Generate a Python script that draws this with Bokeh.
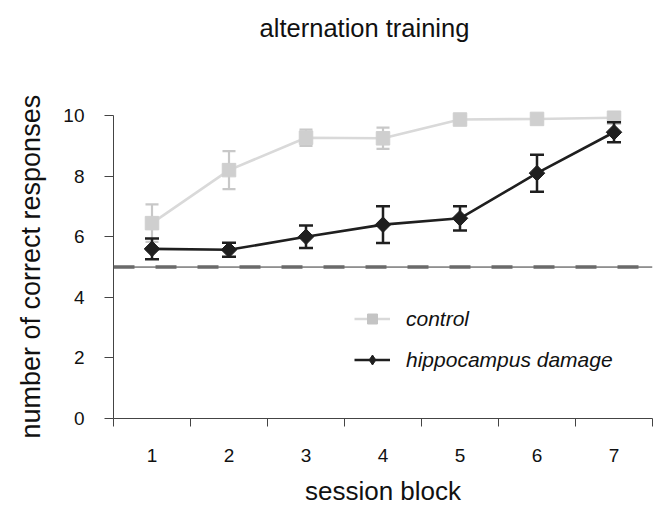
from bokeh.plotting import figure
from bokeh.models import (ColumnDataSource, Range1d, FixedTicker, Span, Legend, LegendItem,
                          Label, Title)
from bokeh.embed import file_html
from bokeh.resources import INLINE
import numpy as np

# ---- data ----
blocks = [1, 2, 3, 4, 5, 6, 7]
control_mean = [6.45, 8.2, 9.27, 9.25, 9.87, 9.89, 9.93]
control_err = [0.62, 0.63, 0.27, 0.35, 0.12, 0.08, 0.08]
hippo_mean = [5.6, 5.57, 6.0, 6.4, 6.61, 8.1, 9.45]
hippo_err = [0.34, 0.23, 0.37, 0.61, 0.4, 0.61, 0.33]
chance = 5
y_ticks = [0, 2, 4, 6, 8, 10]
title_text = "alternation training"
x_label = "session block"
y_label = "number of correct responses"
labels = ["control", "hippocampus damage"]

FONT = "Liberation Sans"
CTRL_LINE = "#d9d9d9"
CTRL_MARK = "#cfcfcf"
CTRL_ERR = "#c8c8c8"
HIP = "#1f1f1f"
TXT = "#111111"

def src(mean, err):
    m = np.array(mean); e = np.array(err)
    return ColumnDataSource(dict(x=blocks, y=m, lo=m - e, hi=m + e))

cs = src(control_mean, control_err)
hs = src(hippo_mean, hippo_err)

# the frame reaches the top of the page so the title (a Label) sits inside it
p = figure(width=654, height=508, output_backend="svg", toolbar_location=None, title=None,
           x_range=Range1d(blocks[0] - 0.5, blocks[-1] + 0.5),
           y_range=Range1d(0, 13.8),
           min_border_left=113, min_border_right=2, min_border_top=0, min_border_bottom=90)
p.background_fill_color = "white"
p.border_fill_color = "white"
p.outline_line_color = None
p.xgrid.visible = False
p.ygrid.visible = False

p.add_layout(Label(x=251, y=391, x_units="screen", y_units="screen", text=title_text,
                   text_align="center", text_baseline="alphabetic", text_font=FONT,
                   text_font_size="25.5px", text_color=TXT))

# chance line
p.add_layout(Span(location=chance, dimension="width", line_color="#333333", line_width=1))
p.add_layout(Span(location=chance, dimension="width", line_color="#6a6a6a", line_width=3.5,
                  line_dash="21 21"))

# control
p.segment(x0="x", y0="lo", x1="x", y1="hi", source=cs, line_color=CTRL_ERR, line_width=2.2)
p.scatter(x="x", y="lo", source=cs, marker="dash", size=13, line_color=CTRL_ERR, line_width=2.2)
p.scatter(x="x", y="hi", source=cs, marker="dash", size=13, line_color=CTRL_ERR, line_width=2.2)
cl = p.line(x="x", y="y", source=cs, line_color=CTRL_LINE, line_width=2.6)
# smaller square (hidden beneath the plotted one) that the legend shows
cm_leg = p.scatter(x="x", y="y", source=cs, marker="square", size=11,
                   fill_color="#c4c4c4", line_color="#c4c4c4")
p.scatter(x="x", y="y", source=cs, marker="square", size=13.5,
          fill_color=CTRL_MARK, line_color=CTRL_MARK)

# hippocampus
p.segment(x0="x", y0="lo", x1="x", y1="hi", source=hs, line_color=HIP, line_width=2.5)
p.scatter(x="x", y="lo", source=hs, marker="dash", size=14, line_color=HIP, line_width=2.5)
p.scatter(x="x", y="hi", source=hs, marker="dash", size=14, line_color=HIP, line_width=2.5)
hl = p.line(x="x", y="y", source=hs, line_color=HIP, line_width=2.6)
# diamond (hidden beneath the rotated square) that the legend shows
hm_leg = p.scatter(x="x", y="y", source=hs, marker="diamond", size=13,
                   fill_color=HIP, line_color=HIP)
p.scatter(x="x", y="y", source=hs, marker="square", size=11, angle=np.pi / 4,
          fill_color=HIP, line_color=HIP)

legend = Legend(items=[LegendItem(label=labels[0], renderers=[cl, cm_leg]),
                       LegendItem(label=labels[1], renderers=[hl, hm_leg])],
                location=(241, 46), orientation="vertical")
legend.padding = 0
legend.margin = 0
legend.border_line_alpha = 0
legend.background_fill_alpha = 0
legend.glyph_width = 36
legend.glyph_height = 25
legend.spacing = 16
legend.label_standoff = 16
legend.label_text_font = FONT
legend.label_text_font_size = "21px"
legend.label_text_font_style = "italic"
legend.label_text_color = TXT
p.add_layout(legend, "center")

# axes
xa = p.xaxis[0]
xa.ticker = FixedTicker(ticks=blocks, minor_ticks=[b - 0.5 for b in blocks] + [blocks[-1] + 0.5])
xa.major_tick_out = 0
xa.major_tick_in = 0
xa.minor_tick_out = 8
xa.minor_tick_in = 0
xa.minor_tick_line_color = "#444444"
xa.axis_line_color = "#444444"
xa.major_label_text_font = FONT
xa.major_label_text_font_size = "19px"
xa.major_label_text_color = TXT
xa.major_label_standoff = 22
xa.axis_label = x_label
xa.axis_label_text_font = FONT
xa.axis_label_text_font_size = "26px"
xa.axis_label_text_font_style = "normal"
xa.axis_label_text_color = TXT
xa.axis_label_standoff = 11

ya = p.yaxis[0]
ya.ticker = FixedTicker(ticks=y_ticks)
ya.bounds = (y_ticks[0], y_ticks[-1])
ya.major_tick_out = 9
ya.major_tick_in = 0
ya.minor_tick_out = 0
ya.minor_tick_in = 0
ya.major_tick_line_color = "#444444"
ya.axis_line_color = "#444444"
ya.major_label_text_font = FONT
ya.major_label_text_font_size = "19px"
ya.major_label_text_color = TXT
ya.major_label_standoff = 20

# y-axis label as a side title, started just below the frame bottom so that it is
# centred on the 0-10 part of the axis
ytitle = Title(text=y_label, align="left", vertical_align="top", offset=-20, standoff=26,
               text_font=FONT, text_font_size="27px", text_font_style="normal",
               text_color=TXT)
p.add_layout(ytitle, "left")

open("out.html", "w").write(file_html(p, INLINE))
